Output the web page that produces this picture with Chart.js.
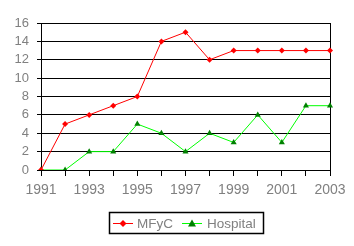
<!DOCTYPE html>
<html><head><meta charset="utf-8">
<script src="https://cdn.jsdelivr.net/npm/chart.js@4"></script>
<style>html,body{margin:0;padding:0;background:#fff}#wrap{width:354px;height:246px}</style>
</head><body><div id="wrap"><canvas id="c" width="354" height="246"></canvas></div>
<script>
const years = ['1991','1992','1993','1994','1995','1996','1997','1998','1999','2000','2001','2002','2003'];
const mfyc = [0,5,6,7,8,14,15,12,13,13,13,13,13];
const hospital = [0,0,2,2,5,4,2,4,3,6,3,7,7];
const seriesNames = ['MFyC','Hospital'];

const FONT = "'Liberation Sans', Arial, sans-serif";

const legendPlugin = {
  id: 'customLegend',
  afterDraw(chart) {
    const ctx = chart.ctx;
    ctx.save();
    ctx.strokeStyle = '#000'; ctx.lineWidth = 1.5;
    ctx.strokeRect(109.5, 212.5, 154, 21);
    const y = 223.5;
    // red
    ctx.strokeStyle = '#ff0000'; ctx.lineWidth = 1;
    ctx.beginPath(); ctx.moveTo(113, y); ctx.lineTo(133, y); ctx.stroke();
    ctx.fillStyle = '#ff0000';
    ctx.beginPath(); ctx.moveTo(123, y-3.5); ctx.lineTo(126.5, y); ctx.lineTo(123, y+3.5); ctx.lineTo(119.5, y); ctx.closePath(); ctx.fill();
    // green
    ctx.strokeStyle = '#00ff00';
    ctx.beginPath(); ctx.moveTo(182, y); ctx.lineTo(202, y); ctx.stroke();
    ctx.fillStyle = '#008000';
    ctx.beginPath(); ctx.moveTo(192, y-4); ctx.lineTo(196, y+3); ctx.lineTo(188, y+3); ctx.closePath(); ctx.fill();
    ctx.fillStyle = '#808080';
    ctx.font = '13.5px ' + FONT;
    ctx.textBaseline = 'middle';
    ctx.fillText(seriesNames[0], 137, y+0.5);
    ctx.fillText(seriesNames[1], 207, y+0.5);
    ctx.restore();
  }
};

new Chart(document.getElementById('c'), {
  type: 'line',
  data: {
    labels: years,
    datasets: [
      {label: seriesNames[0], data: mfyc, borderColor: '#ff0000', backgroundColor: '#ff0000', borderWidth: 1,
       pointStyle: 'rectRot', pointRadius: 3, pointBorderWidth: 0, tension: 0},
      {label: seriesNames[1], data: hospital, borderColor: '#00ff00', backgroundColor: '#008000', pointBorderColor: '#008000', borderWidth: 1,
       pointStyle: 'triangle', pointRadius: 3.5, pointBorderWidth: 0, tension: 0}
    ]
  },
  options: {
    responsive: false,
    animation: false,
    layout: {padding: {top: 23, right: 24, left: 0, bottom: 0}},
    plugins: {legend: {display: false}, tooltip: {enabled: false}},
    scales: {
      x: {
        afterFit(s) { s.height = 76; },
        grid: {
          color: (c) => c.index === years.length - 1 ? '#000' : 'rgba(0,0,0,0)',
          tickColor: '#000', tickLength: 6, drawTicks: true
        },
        border: {color: '#000', width: 1},
        ticks: {
          autoSkip: false, maxRotation: 0, padding: 6, color: '#808080',
          font: {family: FONT, size: 14},
          callback: function(v, i) { return i % 2 === 0 ? years[i] : ''; }
        }
      },
      y: {
        min: 0, max: 16,
        afterFit(s) { s.width = 41; },
        grid: {color: '#000', drawTicks: true, tickLength: 4, tickColor: '#000'},
        border: {color: '#000', width: 1},
        ticks: {stepSize: 2, autoSkip: false, padding: 8, color: '#808080', font: {family: FONT, size: 13}}
      }
    }
  },
  plugins: [legendPlugin]
});
</script>
</body></html>
